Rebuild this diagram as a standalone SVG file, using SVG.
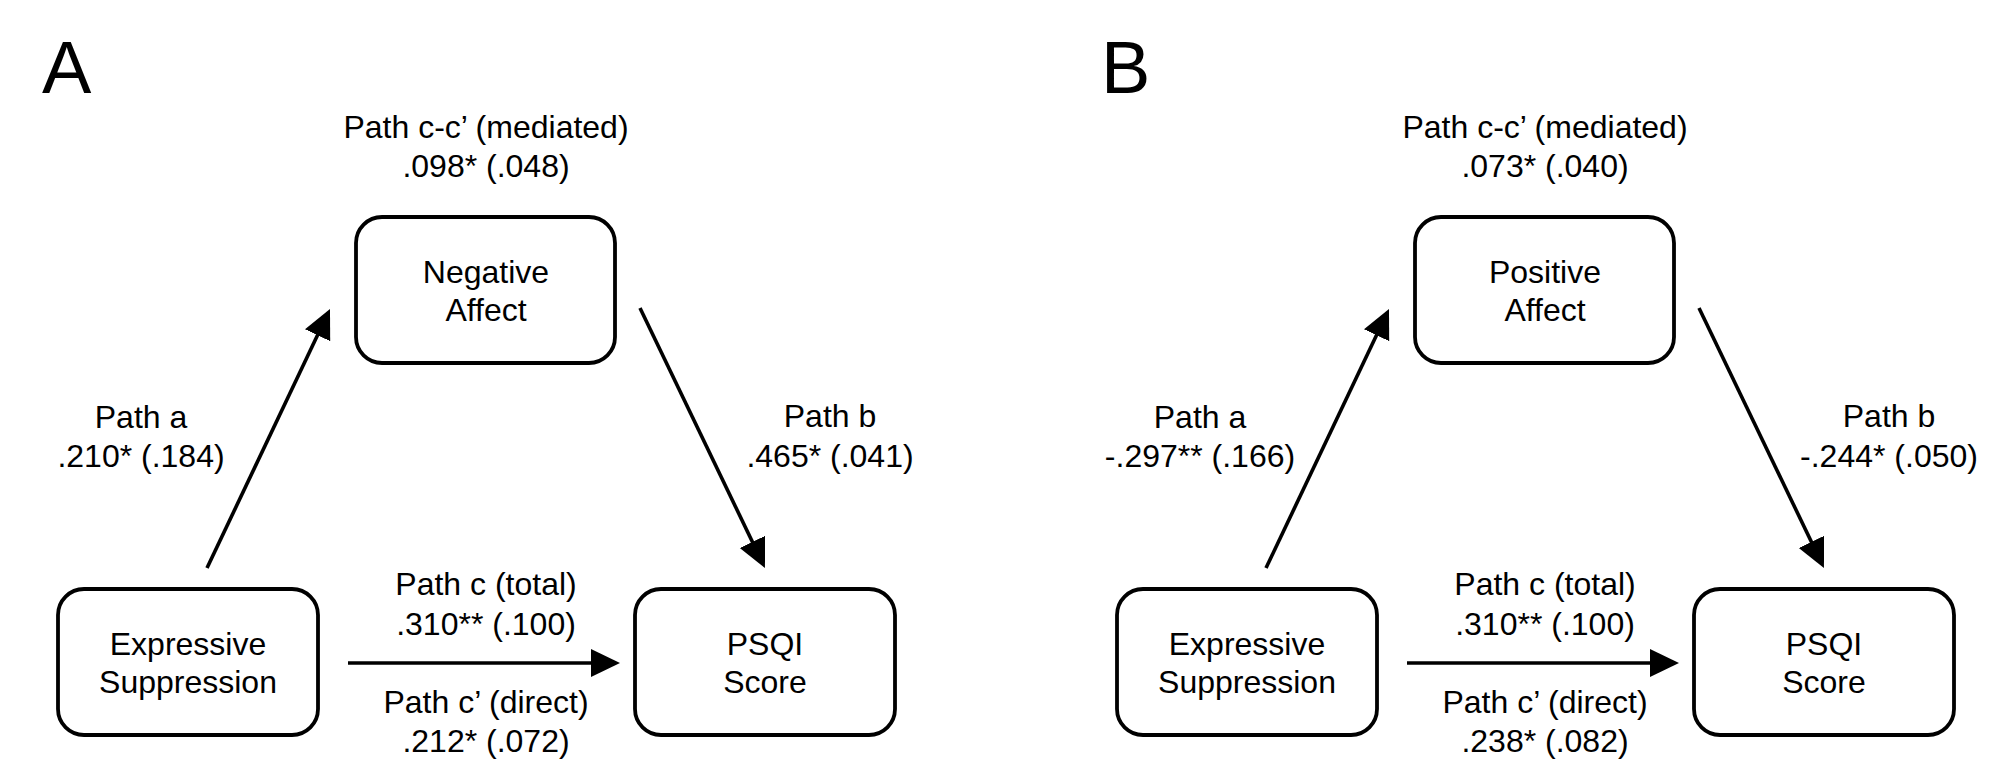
<svg xmlns="http://www.w3.org/2000/svg" width="2008" height="781" viewBox="0 0 2008 781">
<style>
text{font-family:"Liberation Sans",Arial,sans-serif;fill:#000}
.t{font-size:32px;text-anchor:middle}
.big{font-size:74px}
.box{fill:#fff;stroke:#000;stroke-width:3.8}
.ln{stroke:#000;stroke-width:3.6;fill:none;marker-end:url(#ah)}
</style>
<defs>
<marker id="ah" markerUnits="userSpaceOnUse" markerWidth="32" markerHeight="30" refX="9" refY="14" orient="auto">
<path d="M0,0 L29,14 L0,28 Z" fill="#000"/>
</marker>
</defs>
<rect width="2008" height="781" fill="#fff"/>

<text class="big" x="42" y="93">A</text>
<text class="big" x="1101" y="93">B</text>

<g id="connectors">
<line class="ln" x1="207" y1="568" x2="321.4" y2="327.1"/>
<line class="ln" x1="640" y1="308" x2="756.3" y2="550"/>
<line class="ln" x1="348" y1="663" x2="600" y2="663"/>
<line class="ln" x1="1266" y1="568" x2="1380.4" y2="327.1"/>
<line class="ln" x1="1699" y1="308" x2="1815.3" y2="550"/>
<line class="ln" x1="1407" y1="663" x2="1659" y2="663"/>
</g>

<g id="labelsA">
<text class="t" x="486" y="138">Path c-c’ (mediated)</text>
<text class="t" x="486" y="177">.098* (.048)</text>
<text class="t" x="141" y="428">Path a</text>
<text class="t" x="141" y="467">.210* (.184)</text>
<text class="t" x="830" y="427">Path b</text>
<text class="t" x="830" y="467">.465* (.041)</text>
<text class="t" x="486" y="595">Path c (total)</text>
<text class="t" x="486" y="635">.310** (.100)</text>
<text class="t" x="486" y="713">Path c’ (direct)</text>
<text class="t" x="486" y="752">.212* (.072)</text>
</g>

<g id="labelsB">
<text class="t" x="1545" y="138">Path c-c’ (mediated)</text>
<text class="t" x="1545" y="177">.073* (.040)</text>
<text class="t" x="1200" y="428">Path a</text>
<text class="t" x="1200" y="467">-.297** (.166)</text>
<text class="t" x="1889" y="427">Path b</text>
<text class="t" x="1889" y="467">-.244* (.050)</text>
<text class="t" x="1545" y="595">Path c (total)</text>
<text class="t" x="1545" y="635">.310** (.100)</text>
<text class="t" x="1545" y="713">Path c’ (direct)</text>
<text class="t" x="1545" y="752">.238* (.082)</text>
</g>

<g id="nodeA-neg">
<rect class="box" x="356" y="217" width="259" height="146" rx="26"/>
<text class="t" x="486" y="283">Negative</text>
<text class="t" x="486" y="321">Affect</text>
</g>
<g id="nodeA-expr">
<rect class="box" x="58" y="589" width="260" height="146" rx="26"/>
<text class="t" x="188" y="655">Expressive</text>
<text class="t" x="188" y="693">Suppression</text>
</g>
<g id="nodeA-psqi">
<rect class="box" x="635" y="589" width="260" height="146" rx="26"/>
<text class="t" x="765" y="655">PSQI</text>
<text class="t" x="765" y="693">Score</text>
</g>

<g id="nodeB-pos">
<rect class="box" x="1415" y="217" width="259" height="146" rx="26"/>
<text class="t" x="1545" y="283">Positive</text>
<text class="t" x="1545" y="321">Affect</text>
</g>
<g id="nodeB-expr">
<rect class="box" x="1117" y="589" width="260" height="146" rx="26"/>
<text class="t" x="1247" y="655">Expressive</text>
<text class="t" x="1247" y="693">Suppression</text>
</g>
<g id="nodeB-psqi">
<rect class="box" x="1694" y="589" width="260" height="146" rx="26"/>
<text class="t" x="1824" y="655">PSQI</text>
<text class="t" x="1824" y="693">Score</text>
</g>
</svg>
